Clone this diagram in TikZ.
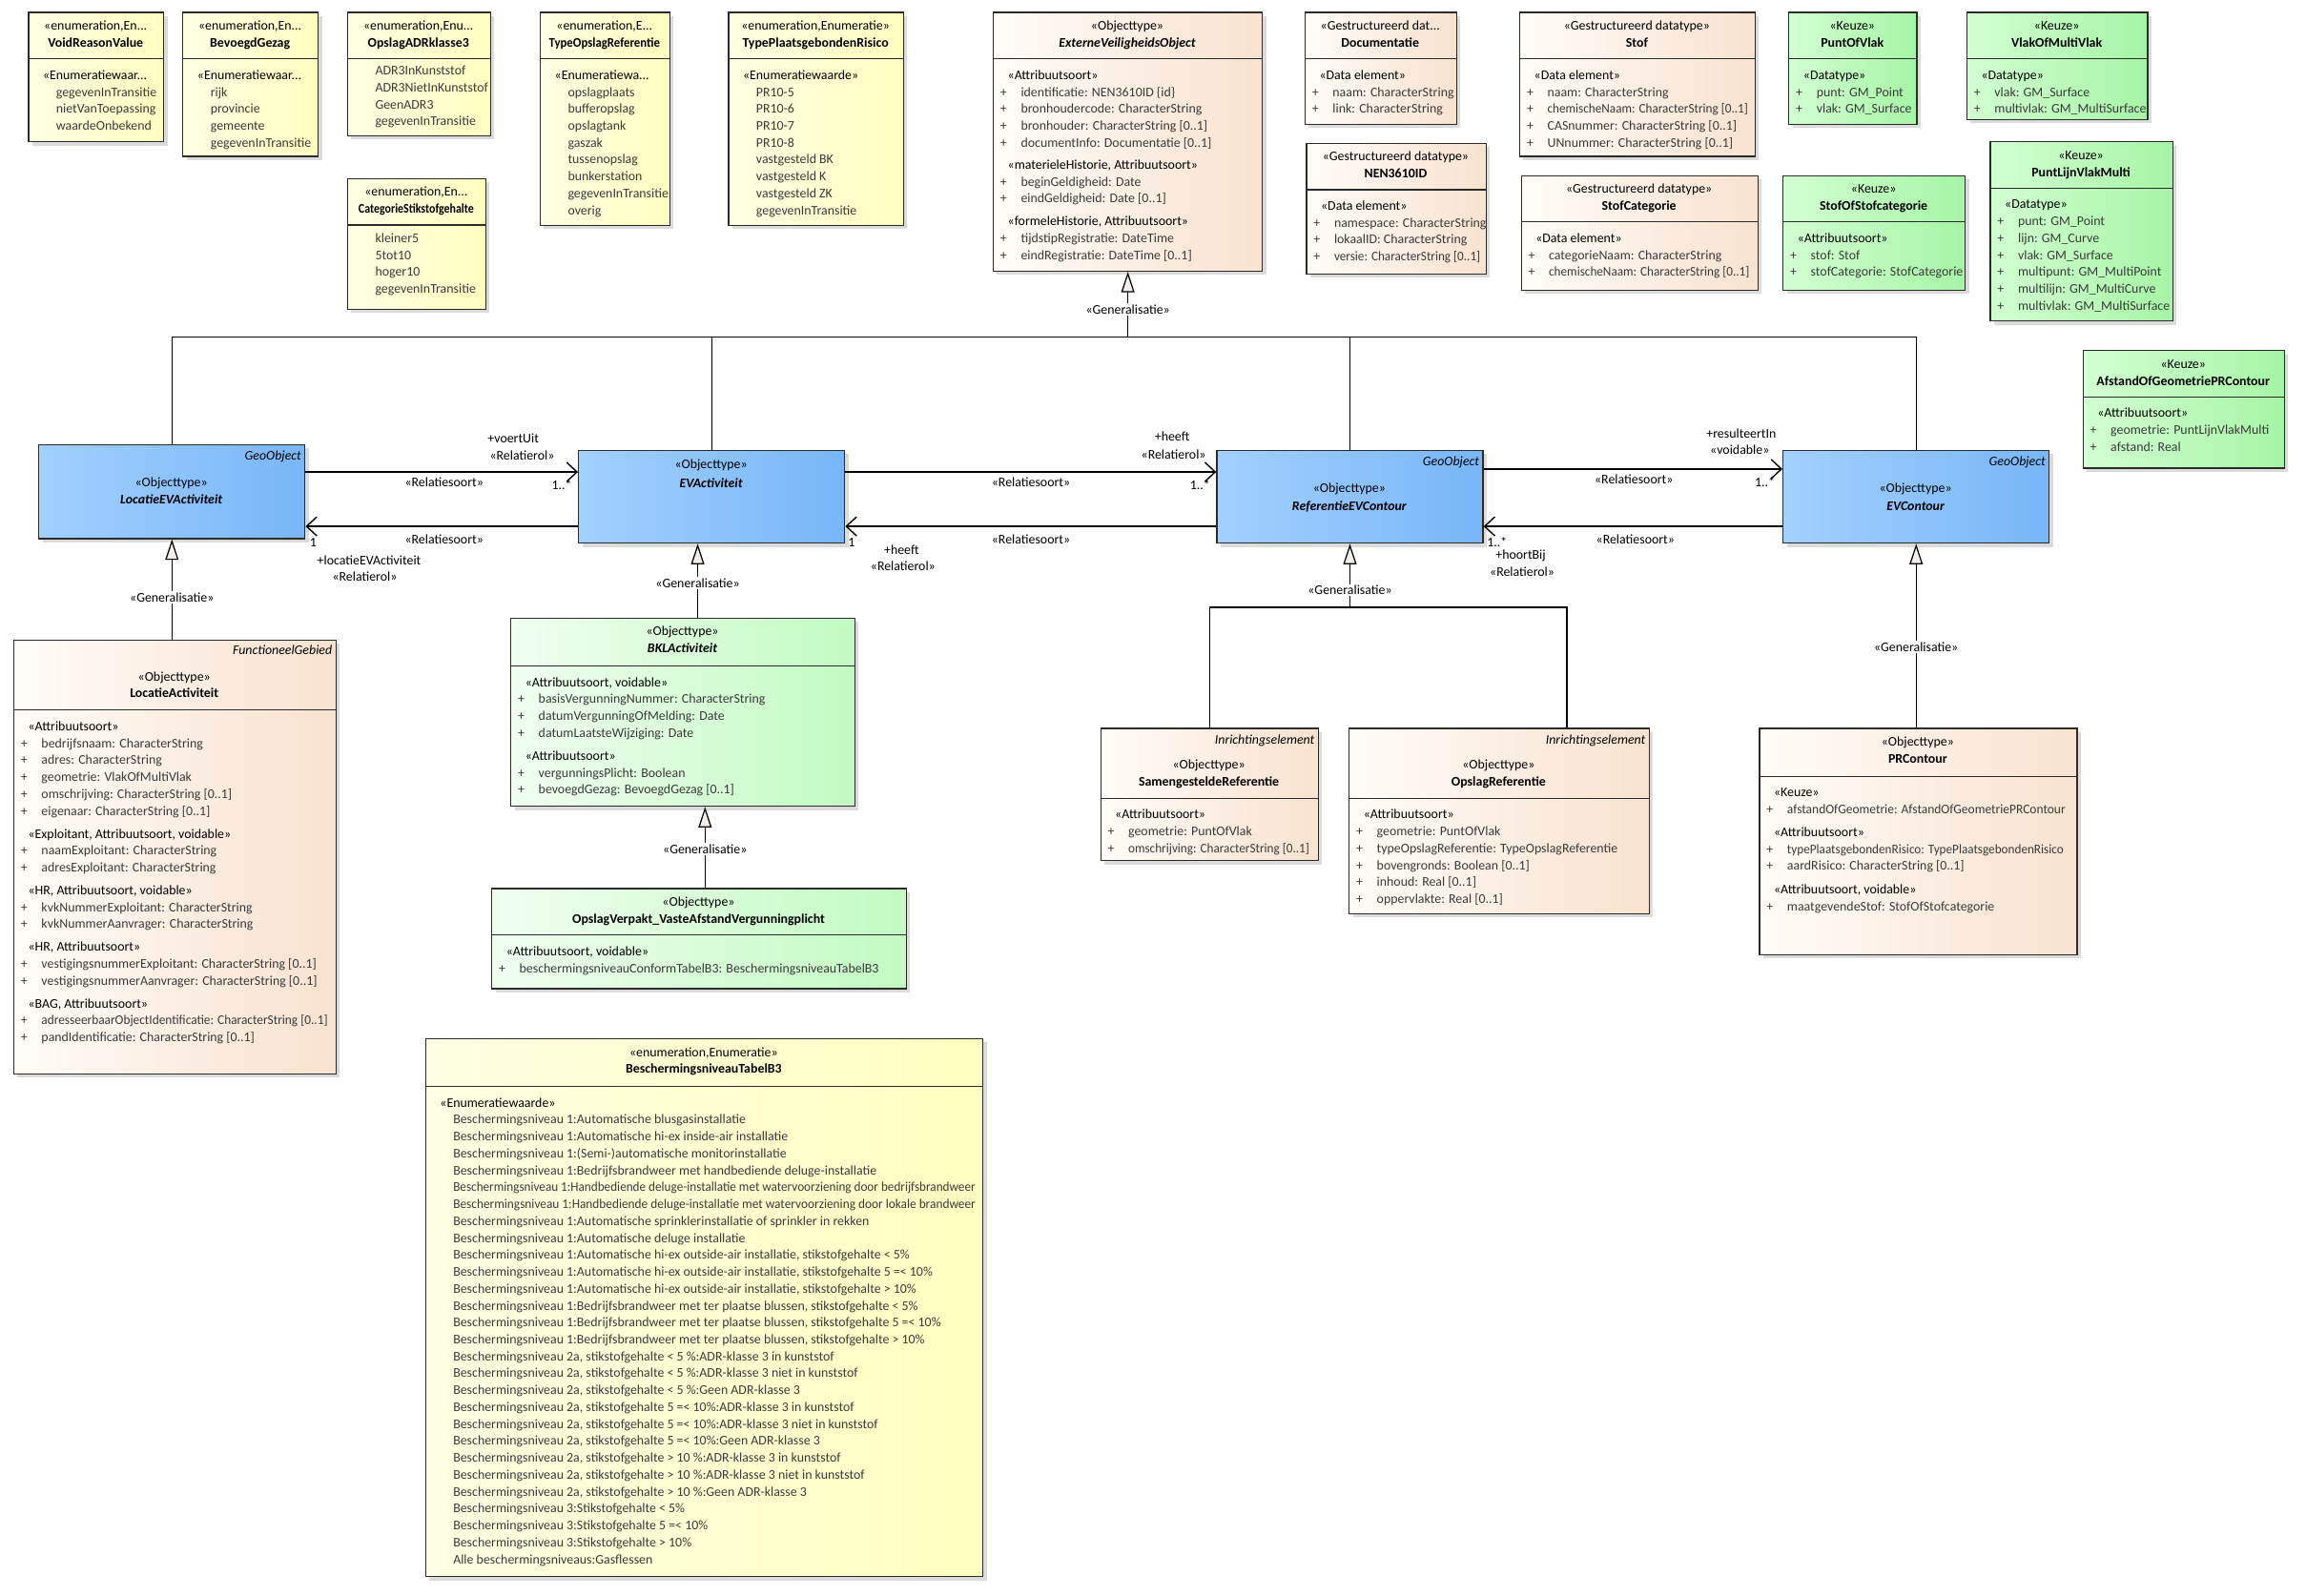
\documentclass[tikz,border=0pt]{standalone}
\usepackage{fontspec}
\setmainfont{Carlito}
\usetikzlibrary{arrows.meta, shadows}
\definecolor{enumL}{HTML}{FFFFE4}
\definecolor{enumR}{HTML}{FFFFC0}
\definecolor{peachL}{HTML}{FFFCF8}
\definecolor{peachR}{HTML}{F8E2CF}
\definecolor{keuzeL}{HTML}{D2FFD2}
\definecolor{keuzeR}{HTML}{A6F4A6}
\definecolor{bklL}{HTML}{F0FFF0}
\definecolor{bklR}{HTML}{C2FAC2}
\definecolor{geoL}{HTML}{A2D0FF}
\definecolor{geoR}{HTML}{78B6F6}
\definecolor{boxLine}{HTML}{2B2B2B}
\definecolor{itemText}{HTML}{3A3A3A}
\definecolor{triFill}{HTML}{F3EEEA}
\newcommand{\umlfont}{\fontsize{9}{11.5}\selectfont}

\begin{document}
\begin{tikzpicture}[
  x=1pt, y=-1pt,
  font=\umlfont,
  cls/.style={draw=boxLine, line width=0.8pt, anchor=north west, inner sep=0pt,
    drop shadow={shadow xshift=2.5pt, shadow yshift=-2.5pt, fill=black!28}},
  enumbox/.style={cls, left color=enumL, right color=enumR},
  databox/.style={cls, left color=peachL, right color=peachR},
  keuzebox/.style={cls, left color=keuzeL, right color=keuzeR},
  bklbox/.style={cls, left color=bklL, right color=bklR},
  geobox/.style={cls, left color=geoL, right color=geoR},
  sep/.style={draw=boxLine, line width=0.8pt},
  stereo/.style={inner sep=0pt, anchor=base},
  cname/.style={inner sep=0pt, anchor=base, font=\umlfont\bfseries},
  aname/.style={inner sep=0pt, anchor=base, font=\umlfont\bfseries\itshape},
  tag/.style={inner sep=0pt, anchor=base east, font=\umlfont\itshape},
  group/.style={inner sep=0pt, anchor=base west},
  item/.style={inner sep=0pt, anchor=base west, text=itemText},
  lab/.style={inner sep=0pt, anchor=base},
  genlab/.style={inner sep=1pt, fill=white},
  assoc/.style={draw=black, line width=0.9pt, -{Straight Barb[length=7pt, width=13pt]}},
  gen/.style={draw=black, line width=0.8pt, -{Triangle[length=14pt, width=9pt, fill=triFill]}},
  link/.style={draw=black, line width=0.8pt}
]

\fill[white] (0,0) rectangle (1568,1085);
\useasboundingbox (0,0) rectangle (1568,1085);

% =========================================================
% ENUMERATIONS (TOP ROW)
% =========================================================

% VoidReasonValue
\node[enumbox, minimum width=92pt, minimum height=88pt] (voidReason) at (19,8) {};
\draw[sep] ([yshift=-32pt]voidReason.north west) -- ([yshift=-32pt]voidReason.north east);
\node[stereo] (voidReasonSt) at (65,20.5) {«enumeration,En...};
\node[cname] (voidReasonNm) at (65,32) {VoidReasonValue};
\node[group] (voidReasonGr) at (29,54) {«Enumeratiewaar...};
\foreach \itm [count=\i from 0] in {gegevenInTransitie, nietVanToepassing, waardeOnbekend}
  \node[item] (voidReason\i) at (38,{65.5+11.5*\i}) {\itm};

% BevoegdGezag
\node[enumbox, minimum width=92pt, minimum height=98pt] (bevGezag) at (124,8) {};
\draw[sep] ([yshift=-32pt]bevGezag.north west) -- ([yshift=-32pt]bevGezag.north east);
\node[stereo] (bevGezagSt) at (170,20.5) {«enumeration,En...};
\node[cname] (bevGezagNm) at (170,32) {BevoegdGezag};
\node[group] (bevGezagGr) at (134,54) {«Enumeratiewaar...};
\foreach \itm [count=\i from 0] in {rijk, provincie, gemeente, gegevenInTransitie}
  \node[item] (bevGezag\i) at (143,{65.5+11.5*\i}) {\itm};

% OpslagADRklasse3
\node[enumbox, minimum width=97pt, minimum height=84pt] (opslagADR) at (236,8) {};
\draw[sep] ([yshift=-32pt]opslagADR.north west) -- ([yshift=-32pt]opslagADR.north east);
\node[stereo] (opslagADRSt) at (284.5,20.5) {«enumeration,Enu...};
\node[cname] (opslagADRNm) at (284.5,32) {OpslagADRklasse3};
\foreach \itm [count=\i from 0] in {ADR3InKunststof, ADR3NietInKunststof, GeenADR3, gegevenInTransitie}
  \node[item] (opslagADR\i) at (255,{51+11.5*\i}) {\itm};

% CategorieStikstofgehalte
\node[enumbox, minimum width=94pt, minimum height=89pt] (catStik) at (236,121) {};
\draw[sep] ([yshift=-32pt]catStik.north west) -- ([yshift=-32pt]catStik.north east);
\node[stereo] (catStikSt) at (283,133.5) {«enumeration,En...};
\node[cname] (catStikNm) at (283,145) {\scalebox{0.86}[1]{CategorieStikstofgehalte}};
\foreach \itm [count=\i from 0] in {kleiner5, 5tot10, hoger10, gegevenInTransitie}
  \node[item] (catStik\i) at (255,{165+11.5*\i}) {\itm};

% TypeOpslagReferentie
\node[enumbox, minimum width=88pt, minimum height=145pt] (typeOpslag) at (367,8) {};
\draw[sep] ([yshift=-32pt]typeOpslag.north west) -- ([yshift=-32pt]typeOpslag.north east);
\node[stereo] (typeOpslagSt) at (411,20.5) {«enumeration,E...};
\node[cname] (typeOpslagNm) at (411,32) {\scalebox{0.92}[1]{TypeOpslagReferentie}};
\node[group] (typeOpslagGr) at (377,54) {«Enumeratiewa...};
\foreach \itm [count=\i from 0] in {opslagplaats, bufferopslag, opslagtank, gaszak,
  tussenopslag, bunkerstation, gegevenInTransitie, overig}
  \node[item] (typeOpslag\i) at (386,{65.5+11.5*\i}) {\itm};

% TypePlaatsgebondenRisico
\node[enumbox, minimum width=119pt, minimum height=145pt] (typePR) at (495,8) {};
\draw[sep] ([yshift=-32pt]typePR.north west) -- ([yshift=-32pt]typePR.north east);
\node[stereo] (typePRSt) at (554.5,20.5) {«enumeration,Enumeratie»};
\node[cname] (typePRNm) at (554.5,32) {TypePlaatsgebondenRisico};
\node[group] (typePRGr) at (505,54) {«Enumeratiewaarde»};
\foreach \itm [count=\i from 0] in {PR10-5, PR10-6, PR10-7, PR10-8, vastgesteld BK,
  vastgesteld K, vastgesteld ZK, gegevenInTransitie}
  \node[item] (typePR\i) at (514,{65.5+11.5*\i}) {\itm};

% =========================================================
% OBJECTTYPE AND DATATYPES (TOP ROW)
% =========================================================

% ExterneVeiligheidsObject
\node[databox, minimum width=183pt, minimum height=176pt] (evo) at (675,8) {};
\draw[sep] ([yshift=-32pt]evo.north west) -- ([yshift=-32pt]evo.north east);
\node[stereo] (evoSt) at (766.5,20.5) {«Objecttype»};
\node[aname] (evoNm) at (766.5,32) {ExterneVeiligheidsObject};
\node[group] (evoGr1) at (685,54) {«Attribuutsoort»};
\foreach \itm [count=\i from 0] in {identificatie: NEN3610ID \{id\}, bronhoudercode: CharacterString,
  bronhouder: CharacterString [0..1], documentInfo: Documentatie [0..1]}{
  \node[item] (evoP\i) at (680,{65.5+11.5*\i}) {+};
  \node[item] (evoA\i) at (694,{65.5+11.5*\i}) {\itm};
}
\node[group] (evoGr2) at (685,115) {«materieleHistorie, Attribuutsoort»};
\foreach \itm [count=\i from 0] in {beginGeldigheid: Date, eindGeldigheid: Date [0..1]}{
  \node[item] (evoQ\i) at (680,{126.5+11.5*\i}) {+};
  \node[item] (evoB\i) at (694,{126.5+11.5*\i}) {\itm};
}
\node[group] (evoGr3) at (685,153.5) {«formeleHistorie, Attribuutsoort»};
\foreach \itm [count=\i from 0] in {tijdstipRegistratie: DateTime, eindRegistratie: DateTime [0..1]}{
  \node[item] (evoR\i) at (680,{165+11.5*\i}) {+};
  \node[item] (evoC\i) at (694,{165+11.5*\i}) {\itm};
}

% Documentatie
\node[databox, minimum width=103pt, minimum height=76pt] (docu) at (887,8) {};
\draw[sep] ([yshift=-32pt]docu.north west) -- ([yshift=-32pt]docu.north east);
\node[stereo] (docuSt) at (938.5,20.5) {«Gestructureerd dat...};
\node[cname] (docuNm) at (938.5,32) {Documentatie};
\node[group] (docuGr) at (897,54) {«Data element»};
\foreach \itm [count=\i from 0] in {naam: CharacterString, link: CharacterString}{
  \node[item] (docuP\i) at (892,{65.5+11.5*\i}) {+};
  \node[item] (docuA\i) at (906,{65.5+11.5*\i}) {\itm};
}

% NEN3610ID
\node[databox, minimum width=122pt, minimum height=89pt] (nenID) at (888,97) {};
\draw[sep] ([yshift=-32pt]nenID.north west) -- ([yshift=-32pt]nenID.north east);
\node[stereo] (nenIDSt) at (949,109.5) {«Gestructureerd datatype»};
\node[cname] (nenIDNm) at (949,121) {NEN3610ID};
\node[group] (nenIDGr) at (898,143) {«Data element»};
\foreach \itm [count=\i from 0] in {namespace: CharacterString, lokaalID: CharacterString,
  {\scalebox{0.95}[1]{versie: CharacterString [0..1]}}}{
  \node[item] (nenIDP\i) at (893,{154.5+11.5*\i}) {+};
  \node[item] (nenIDA\i) at (907,{154.5+11.5*\i}) {\itm};
}

% Stof
\node[databox, minimum width=160pt, minimum height=98pt] (stof) at (1033,8) {};
\draw[sep] ([yshift=-32pt]stof.north west) -- ([yshift=-32pt]stof.north east);
\node[stereo] (stofSt) at (1113,20.5) {«Gestructureerd datatype»};
\node[cname] (stofNm) at (1113,32) {Stof};
\node[group] (stofGr) at (1043,54) {«Data element»};
\foreach \itm [count=\i from 0] in {naam: CharacterString,
  {\scalebox{0.95}[1]{chemischeNaam: CharacterString [0..1]}},
  CASnummer: CharacterString [0..1], UNnummer: CharacterString [0..1]}{
  \node[item] (stofP\i) at (1038,{65.5+11.5*\i}) {+};
  \node[item] (stofA\i) at (1052,{65.5+11.5*\i}) {\itm};
}

% StofCategorie
\node[databox, minimum width=161pt, minimum height=78pt] (stofCat) at (1034,119) {};
\draw[sep] ([yshift=-32pt]stofCat.north west) -- ([yshift=-32pt]stofCat.north east);
\node[stereo] (stofCatSt) at (1114.5,131.5) {«Gestructureerd datatype»};
\node[cname] (stofCatNm) at (1114.5,143) {StofCategorie};
\node[group] (stofCatGr) at (1044,165) {«Data element»};
\foreach \itm [count=\i from 0] in {categorieNaam: CharacterString,
  {\scalebox{0.95}[1]{chemischeNaam: CharacterString [0..1]}}}{
  \node[item] (stofCatP\i) at (1039,{176.5+11.5*\i}) {+};
  \node[item] (stofCatA\i) at (1053,{176.5+11.5*\i}) {\itm};
}

% =========================================================
% KEUZE TYPES
% =========================================================

% PuntOfVlak
\node[keuzebox, minimum width=87pt, minimum height=76pt] (puntVlak) at (1216,8) {};
\draw[sep] ([yshift=-32pt]puntVlak.north west) -- ([yshift=-32pt]puntVlak.north east);
\node[stereo] (puntVlakSt) at (1259.5,20.5) {«Keuze»};
\node[cname] (puntVlakNm) at (1259.5,32) {PuntOfVlak};
\node[group] (puntVlakGr) at (1226,54) {«Datatype»};
\foreach \itm [count=\i from 0] in {punt: GM\_Point, vlak: GM\_Surface}{
  \node[item] (puntVlakP\i) at (1221,{65.5+11.5*\i}) {+};
  \node[item] (puntVlakA\i) at (1235,{65.5+11.5*\i}) {\itm};
}

% VlakOfMultiVlak
\node[keuzebox, minimum width=123pt, minimum height=73pt] (vlakMulti) at (1337,8) {};
\draw[sep] ([yshift=-32pt]vlakMulti.north west) -- ([yshift=-32pt]vlakMulti.north east);
\node[stereo] (vlakMultiSt) at (1398.5,20.5) {«Keuze»};
\node[cname] (vlakMultiNm) at (1398.5,32) {VlakOfMultiVlak};
\node[group] (vlakMultiGr) at (1347,54) {«Datatype»};
\foreach \itm [count=\i from 0] in {vlak: GM\_Surface, multivlak: GM\_MultiSurface}{
  \node[item] (vlakMultiP\i) at (1342,{65.5+11.5*\i}) {+};
  \node[item] (vlakMultiA\i) at (1356,{65.5+11.5*\i}) {\itm};
}

% StofOfStofcategorie
\node[keuzebox, minimum width=124pt, minimum height=78pt] (stofOf) at (1212,119) {};
\draw[sep] ([yshift=-32pt]stofOf.north west) -- ([yshift=-32pt]stofOf.north east);
\node[stereo] (stofOfSt) at (1274,131.5) {«Keuze»};
\node[cname] (stofOfNm) at (1274,143) {StofOfStofcategorie};
\node[group] (stofOfGr) at (1222,165) {«Attribuutsoort»};
\foreach \itm [count=\i from 0] in {stof: Stof, stofCategorie: StofCategorie}{
  \node[item] (stofOfP\i) at (1217,{176.5+11.5*\i}) {+};
  \node[item] (stofOfA\i) at (1231,{176.5+11.5*\i}) {\itm};
}

% PuntLijnVlakMulti
\node[keuzebox, minimum width=124pt, minimum height=122pt] (puntLijn) at (1353,96) {};
\draw[sep] ([yshift=-32pt]puntLijn.north west) -- ([yshift=-32pt]puntLijn.north east);
\node[stereo] (puntLijnSt) at (1415,108.5) {«Keuze»};
\node[cname] (puntLijnNm) at (1415,120) {PuntLijnVlakMulti};
\node[group] (puntLijnGr) at (1363,142) {«Datatype»};
\foreach \itm [count=\i from 0] in {punt: GM\_Point, lijn: GM\_Curve, vlak: GM\_Surface,
  multipunt: GM\_MultiPoint, multilijn: GM\_MultiCurve, multivlak: GM\_MultiSurface}{
  \node[item] (puntLijnP\i) at (1358,{153.5+11.5*\i}) {+};
  \node[item] (puntLijnA\i) at (1372,{153.5+11.5*\i}) {\itm};
}

% AfstandOfGeometriePRContour
\node[keuzebox, minimum width=137pt, minimum height=80pt] (afstandPR) at (1416,238) {};
\draw[sep] ([yshift=-32pt]afstandPR.north west) -- ([yshift=-32pt]afstandPR.north east);
\node[stereo] (afstandPRSt) at (1484.5,250.5) {«Keuze»};
\node[cname] (afstandPRNm) at (1484.5,262) {AfstandOfGeometriePRContour};
\node[group] (afstandPRGr) at (1426,284) {«Attribuutsoort»};
\foreach \itm [count=\i from 0] in {geometrie: PuntLijnVlakMulti, afstand: Real}{
  \node[item] (afstandPRP\i) at (1421,{295.5+11.5*\i}) {+};
  \node[item] (afstandPRA\i) at (1435,{295.5+11.5*\i}) {\itm};
}

% =========================================================
% GEOOBJECT ROW
% =========================================================

\node[geobox, minimum width=181pt, minimum height=64pt] (locEV) at (26,302) {};
\node[tag] (locEVTg) at (205,313) {GeoObject};
\node[stereo] (locEVSt) at (116.5,331) {«Objecttype»};
\node[aname] (locEVNm) at (116.5,343) {LocatieEVActiviteit};

\node[geobox, minimum width=181pt, minimum height=63pt] (evAct) at (393,306) {};
\node[stereo] (evActSt) at (483.5,319) {«Objecttype»};
\node[aname] (evActNm) at (483.5,332) {EVActiviteit};

\node[geobox, minimum width=181pt, minimum height=63pt] (refEV) at (827,306) {};
\node[tag] (refEVTg) at (1006,317) {GeoObject};
\node[stereo] (refEVSt) at (917.5,335) {«Objecttype»};
\node[aname] (refEVNm) at (917.5,347) {ReferentieEVContour};

\node[geobox, minimum width=181pt, minimum height=63pt] (evC) at (1212,306) {};
\node[tag] (evCTg) at (1391,317) {GeoObject};
\node[stereo] (evCSt) at (1302.5,335) {«Objecttype»};
\node[aname] (evCNm) at (1302.5,347) {EVContour};

% =========================================================
% LOWER CLASSES
% =========================================================

% LocatieActiviteit
\node[databox, minimum width=219pt, minimum height=295pt] (locAct) at (9,435) {};
\draw[sep] ([yshift=-48pt]locAct.north west) -- ([yshift=-48pt]locAct.north east);
\node[tag] (locActTg) at (226,445) {FunctioneelGebied};
\node[stereo] (locActSt) at (118.5,463) {«Objecttype»};
\node[cname] (locActNm) at (118.5,474.5) {LocatieActiviteit};
\node[group] (locActGr1) at (19,497) {«Attribuutsoort»};
\foreach \itm [count=\i from 0] in {bedrijfsnaam: CharacterString, adres: CharacterString,
  geometrie: VlakOfMultiVlak, omschrijving: CharacterString [0..1], eigenaar: CharacterString [0..1]}{
  \node[item] (locActP\i) at (14,{508.5+11.5*\i}) {+};
  \node[item] (locActA\i) at (28,{508.5+11.5*\i}) {\itm};
}
\node[group] (locActGr2) at (19,570) {«Exploitant, Attribuutsoort, voidable»};
\foreach \itm [count=\i from 0] in {naamExploitant: CharacterString, adresExploitant: CharacterString}{
  \node[item] (locActQ\i) at (14,{581.5+11.5*\i}) {+};
  \node[item] (locActB\i) at (28,{581.5+11.5*\i}) {\itm};
}
\node[group] (locActGr3) at (19,608.5) {«HR, Attribuutsoort, voidable»};
\foreach \itm [count=\i from 0] in {kvkNummerExploitant: CharacterString, kvkNummerAanvrager: CharacterString}{
  \node[item] (locActR\i) at (14,{620+11.5*\i}) {+};
  \node[item] (locActC\i) at (28,{620+11.5*\i}) {\itm};
}
\node[group] (locActGr4) at (19,647) {«HR, Attribuutsoort»};
\foreach \itm [count=\i from 0] in {vestigingsnummerExploitant: CharacterString [0..1],
  vestigingsnummerAanvrager: CharacterString [0..1]}{
  \node[item] (locActS\i) at (14,{658.5+11.5*\i}) {+};
  \node[item] (locActD\i) at (28,{658.5+11.5*\i}) {\itm};
}
\node[group] (locActGr5) at (19,685.5) {«BAG, Attribuutsoort»};
\foreach \itm [count=\i from 0] in {{\scalebox{0.96}[1]{adresseerbaarObjectIdentificatie: CharacterString [0..1]}},
  pandIdentificatie: CharacterString [0..1]}{
  \node[item] (locActT\i) at (14,{697+11.5*\i}) {+};
  \node[item] (locActE\i) at (28,{697+11.5*\i}) {\itm};
}

% BKLActiviteit
\node[bklbox, minimum width=234pt, minimum height=128pt] (bkl) at (347,420) {};
\draw[sep] ([yshift=-33pt]bkl.north west) -- ([yshift=-33pt]bkl.north east);
\node[stereo] (bklSt) at (464,432.5) {«Objecttype»};
\node[aname] (bklNm) at (464,444) {BKLActiviteit};
\node[group] (bklGr1) at (357,467) {«Attribuutsoort, voidable»};
\foreach \itm [count=\i from 0] in {basisVergunningNummer: CharacterString,
  datumVergunningOfMelding: Date, datumLaatsteWijziging: Date}{
  \node[item] (bklP\i) at (352,{478.5+11.5*\i}) {+};
  \node[item] (bklA\i) at (366,{478.5+11.5*\i}) {\itm};
}
\node[group] (bklGr2) at (357,517) {«Attribuutsoort»};
\foreach \itm [count=\i from 0] in {vergunningsPlicht: Boolean, bevoegdGezag: BevoegdGezag [0..1]}{
  \node[item] (bklQ\i) at (352,{528.5+11.5*\i}) {+};
  \node[item] (bklB\i) at (366,{528.5+11.5*\i}) {\itm};
}

% OpslagVerpakt_VasteAfstandVergunningplicht
\node[bklbox, minimum width=282pt, minimum height=68pt] (opslagV) at (334,604) {};
\draw[sep] ([yshift=-32pt]opslagV.north west) -- ([yshift=-32pt]opslagV.north east);
\node[stereo] (opslagVSt) at (475,616.5) {«Objecttype»};
\node[cname] (opslagVNm) at (475,628) {OpslagVerpakt\_VasteAfstandVergunningplicht};
\node[group] (opslagVGr) at (344,650) {«Attribuutsoort, voidable»};
\node[item] (opslagVP0) at (339,661.5) {+};
\node[item] (opslagVA0) at (353,661.5) {beschermingsniveauConformTabelB3: BeschermingsniveauTabelB3};

% SamengesteldeReferentie
\node[databox, minimum width=148pt, minimum height=90pt] (samRef) at (748,495) {};
\draw[sep] ([yshift=-48pt]samRef.north west) -- ([yshift=-48pt]samRef.north east);
\node[tag] (samRefTg) at (894,506) {Inrichtingselement};
\node[stereo] (samRefSt) at (822,523) {«Objecttype»};
\node[cname] (samRefNm) at (822,534.5) {SamengesteldeReferentie};
\node[group] (samRefGr) at (758,557) {«Attribuutsoort»};
\foreach \itm [count=\i from 0] in {geometrie: PuntOfVlak,
  {\scalebox{0.95}[1]{omschrijving: CharacterString [0..1]}}}{
  \node[item] (samRefP\i) at (753,{568.5+11.5*\i}) {+};
  \node[item] (samRefA\i) at (767,{568.5+11.5*\i}) {\itm};
}

% OpslagReferentie
\node[databox, minimum width=204pt, minimum height=126pt] (opslagRef) at (917,495) {};
\draw[sep] ([yshift=-48pt]opslagRef.north west) -- ([yshift=-48pt]opslagRef.north east);
\node[tag] (opslagRefTg) at (1119,506) {Inrichtingselement};
\node[stereo] (opslagRefSt) at (1019,523) {«Objecttype»};
\node[cname] (opslagRefNm) at (1019,534.5) {OpslagReferentie};
\node[group] (opslagRefGr) at (927,557) {«Attribuutsoort»};
\foreach \itm [count=\i from 0] in {geometrie: PuntOfVlak, typeOpslagReferentie: TypeOpslagReferentie,
  bovengronds: Boolean [0..1], inhoud: Real [0..1], oppervlakte: Real [0..1]}{
  \node[item] (opslagRefP\i) at (922,{568.5+11.5*\i}) {+};
  \node[item] (opslagRefA\i) at (936,{568.5+11.5*\i}) {\itm};
}

% PRContour
\node[databox, minimum width=216pt, minimum height=154pt] (prC) at (1196,495) {};
\draw[sep] ([yshift=-33pt]prC.north west) -- ([yshift=-33pt]prC.north east);
\node[stereo] (prCSt) at (1304,507.5) {«Objecttype»};
\node[cname] (prCNm) at (1304,519) {PRContour};
\node[group] (prCGr1) at (1206,542) {«Keuze»};
\node[item] (prCP0) at (1201,553.5) {+};
\node[item] (prCA0) at (1215,553.5) {\scalebox{0.97}[1]{afstandOfGeometrie: AfstandOfGeometriePRContour}};
\node[group] (prCGr2) at (1206,569) {«Attribuutsoort»};
\foreach \itm [count=\i from 0] in {{\scalebox{0.95}[1]{typePlaatsgebondenRisico: TypePlaatsgebondenRisico}},
  aardRisico: CharacterString [0..1]}{
  \node[item] (prCQ\i) at (1201,{580.5+11.5*\i}) {+};
  \node[item] (prCB\i) at (1215,{580.5+11.5*\i}) {\itm};
}
\node[group] (prCGr3) at (1206,608) {«Attribuutsoort, voidable»};
\node[item] (prCR0) at (1201,619.5) {+};
\node[item] (prCC0) at (1215,619.5) {maatgevendeStof: StofOfStofcategorie};

% BeschermingsniveauTabelB3
\node[enumbox, minimum width=379pt, minimum height=366pt] (besch) at (289,706) {};
\draw[sep] ([yshift=-33pt]besch.north west) -- ([yshift=-33pt]besch.north east);
\node[stereo] (beschSt) at (478.5,718.5) {«enumeration,Enumeratie»};
\node[cname] (beschNm) at (478.5,730) {BeschermingsniveauTabelB3};
\node[group] (beschGr) at (299,753) {«Enumeratiewaarde»};
\foreach \itm [count=\i from 0] in {
  Beschermingsniveau 1:Automatische blusgasinstallatie,
  Beschermingsniveau 1:Automatische hi-ex inside-air installatie,
  Beschermingsniveau 1:(Semi-)automatische monitorinstallatie,
  Beschermingsniveau 1:Bedrijfsbrandweer met handbediende deluge-installatie,
  {\scalebox{0.95}[1]{Beschermingsniveau 1:Handbediende deluge-installatie met watervoorziening door bedrijfsbrandweer}},
  {\scalebox{0.96}[1]{Beschermingsniveau 1:Handbediende deluge-installatie met watervoorziening door lokale brandweer}},
  Beschermingsniveau 1:Automatische sprinklerinstallatie of sprinkler in rekken,
  Beschermingsniveau 1:Automatische deluge installatie,
  {Beschermingsniveau 1:Automatische hi-ex outside-air installatie, stikstofgehalte < 5\%},
  {Beschermingsniveau 1:Automatische hi-ex outside-air installatie, stikstofgehalte 5 =< 10\%},
  {Beschermingsniveau 1:Automatische hi-ex outside-air installatie, stikstofgehalte > 10\%},
  {Beschermingsniveau 1:Bedrijfsbrandweer met ter plaatse blussen, stikstofgehalte < 5\%},
  {Beschermingsniveau 1:Bedrijfsbrandweer met ter plaatse blussen, stikstofgehalte 5 =< 10\%},
  {Beschermingsniveau 1:Bedrijfsbrandweer met ter plaatse blussen, stikstofgehalte > 10\%},
  {Beschermingsniveau 2a, stikstofgehalte < 5 \%:ADR-klasse 3 in kunststof},
  {Beschermingsniveau 2a, stikstofgehalte < 5 \%:ADR-klasse 3 niet in kunststof},
  {Beschermingsniveau 2a, stikstofgehalte < 5 \%:Geen ADR-klasse 3},
  {Beschermingsniveau 2a, stikstofgehalte 5 =< 10\%:ADR-klasse 3 in kunststof},
  {Beschermingsniveau 2a, stikstofgehalte 5 =< 10\%:ADR-klasse 3 niet in kunststof},
  {Beschermingsniveau 2a, stikstofgehalte 5 =< 10\%:Geen ADR-klasse 3},
  {Beschermingsniveau 2a, stikstofgehalte > 10 \%:ADR-klasse 3 in kunststof},
  {Beschermingsniveau 2a, stikstofgehalte > 10 \%:ADR-klasse 3 niet in kunststof},
  {Beschermingsniveau 2a, stikstofgehalte > 10 \%:Geen ADR-klasse 3},
  Beschermingsniveau 3:Stikstofgehalte < 5\%,
  Beschermingsniveau 3:Stikstofgehalte 5 =< 10\%,
  Beschermingsniveau 3:Stikstofgehalte > 10\%,
  Alle beschermingsniveaus:Gasflessen}
  \node[item] (besch\i) at (308,{764.5+11.5*\i}) {\itm};

% =========================================================
% GENERALISATIONS
% =========================================================

\coordinate (busEVO) at (evo.south |- 0,229);
\draw[gen] (busEVO) -- node[genlab, pos=0.42] (genEVO) {«Generalisatie»} (evo.south);
\draw[link] (locEV.north) |- (evC.north |- busEVO) -- (evC.north);
\draw[link] (evAct.north) -- (evAct.north |- busEVO);
\draw[link] (refEV.north) -- (refEV.north |- busEVO);

\draw[gen] (locEV.south |- locAct.north) -- node[genlab, pos=0.42] (genLoc) {«Generalisatie»} (locEV.south);

\coordinate (bklTop) at ([xshift=10pt]bkl.north);
\draw[gen] (bklTop) -- node[genlab, pos=0.47] (genBKL) {«Generalisatie»} (bklTop |- evAct.south);

\coordinate (opslagVTop) at ([xshift=4pt]opslagV.north);
\draw[gen] (opslagVTop) -- node[genlab, pos=0.48] (genOpslagV) {«Generalisatie»} (opslagVTop |- bkl.south);

\coordinate (busRef) at (refEV.south |- 0,413);
\coordinate (opslagRefTop) at ([xshift=46pt]opslagRef.north);
\draw[gen] (busRef) -- node[genlab, pos=0.27] (genRef) {«Generalisatie»} (refEV.south);
\draw[link] (samRef.north) |- (opslagRefTop |- busRef) -- (opslagRefTop);

\draw[gen] (evC.south |- prC.north) -- node[genlab, pos=0.44] (genPR) {«Generalisatie»} (evC.south);

% =========================================================
% ASSOCIATIONS
% =========================================================

% LocatieEVActiviteit <-> EVActiviteit
\draw[assoc] (locEV.east |- 0,321) -- (evAct.west |- 0,321);
\node[lab] (voertUit) at (349,301) {+voertUit};
\node[lab] (voertUitRol) at (355,313) {«Relatierol»};
\node[lab] (voertUitSrt) at (302,331) {«Relatiesoort»};
\node[lab] (voertUitMul) at (382,333) {1..*};

\draw[assoc] (evAct.west |- 0,358) -- (locEV.east |- 0,358);
\node[lab] (locRelSrt) at (302,370) {«Relatiesoort»};
\node[lab] (locRelMul) at (213,372) {1};
\node[lab] (locRel) at (251,384) {+locatieEVActiviteit};
\node[lab] (locRelRol) at (248,395) {«Relatierol»};

% EVActiviteit <-> ReferentieEVContour
\draw[assoc] (evAct.east |- 0,321) -- (refEV.west |- 0,321);
\node[lab] (heeftA) at (797,300) {+heeft};
\node[lab] (heeftARol) at (798,312) {«Relatierol»};
\node[lab] (heeftASrt) at (701,331) {«Relatiesoort»};
\node[lab] (heeftAMul) at (816,333) {1..*};

\draw[assoc] (refEV.west |- 0,358) -- (evAct.east |- 0,358);
\node[lab] (heeftBSrt) at (701,370) {«Relatiesoort»};
\node[lab] (heeftBMul) at (579,372) {1};
\node[lab] (heeftB) at (613,377) {+heeft};
\node[lab] (heeftBRol) at (614,388) {«Relatierol»};

% ReferentieEVContour <-> EVContour
\draw[assoc] (refEV.east |- 0,319) -- (evC.west |- 0,319);
\node[lab] (resulteertIn) at (1184,298) {+resulteertIn};
\node[lab] (resulteertInRol) at (1183,309) {«voidable»};
\node[lab] (resulteertInSrt) at (1111,329) {«Relatiesoort»};
\node[lab] (resulteertInMul) at (1200,331) {1..*};

\draw[assoc] (evC.west |- 0,358) -- (refEV.east |- 0,358);
\node[lab] (hoortBijSrt) at (1112,370) {«Relatiesoort»};
\node[lab] (hoortBijMul) at (1018,372) {1..*};
\node[lab] (hoortBij) at (1034,380) {+hoortBij};
\node[lab] (hoortBijRol) at (1035,392) {«Relatierol»};

\end{tikzpicture}
\end{document}
